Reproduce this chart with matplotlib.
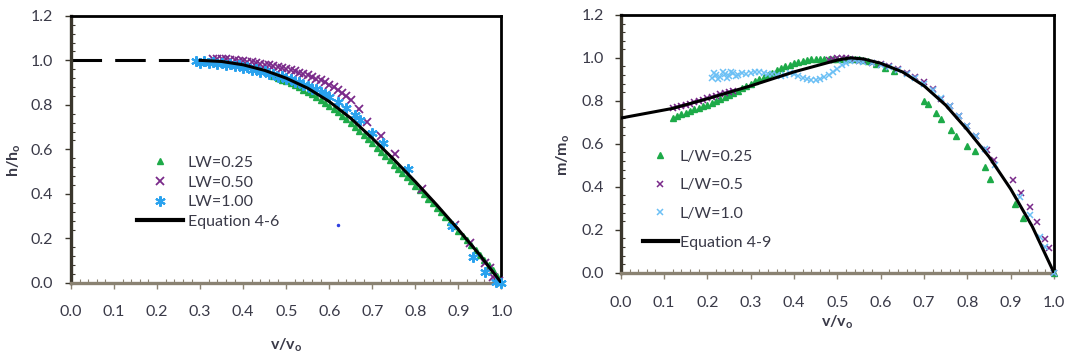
import matplotlib.pyplot as plt
from matplotlib.lines import Line2D
from matplotlib.ticker import MultipleLocator, FormatStrFormatter

plt.rcParams['font.family'] = ['Lato', 'DejaVu Sans']
plt.rcParams['mathtext.default'] = 'regular'

GREEN = '#1daa48'
PURPLE = '#7a2a8a'
BLUE = '#2aa2ee'
LIGHT_BLUE = '#6cc0f5'
TEXT = '#3a3a48'
LEFT_AXIS = '#3a362c'
BOTTOM_AXIS = '#8a8272'
FS = 11.5

# ---------------- h/ho vs v/vo ----------------
eq46_dash_x = [0.0, 0.30]
eq46_dash_y = [1.0, 1.0]
eq46_x = [0.30, 0.35, 0.40, 0.45, 0.50, 0.55, 0.60, 0.65, 0.70, 0.75, 0.80, 0.85, 0.90, 0.95, 1.00]
eq46_y = [1.00, 0.995, 0.98, 0.955, 0.92, 0.875, 0.815, 0.74, 0.65, 0.555, 0.455, 0.35, 0.24, 0.125, 0.0]

lw025_x = [0.47, 0.48, 0.49, 0.50, 0.51, 0.52, 0.53, 0.54, 0.55, 0.56, 0.57, 0.58, 0.59, 0.60,
           0.61, 0.62, 0.63, 0.64, 0.65, 0.66, 0.67, 0.68, 0.69, 0.70, 0.71, 0.72, 0.73, 0.74,
           0.75, 0.76, 0.77, 0.78, 0.79, 0.80, 0.81, 0.82, 0.83, 0.84, 0.85, 0.86, 0.87, 0.88,
           0.89, 0.90, 0.91, 0.92, 0.93, 0.94, 0.95, 0.96, 0.97, 0.98, 0.99, 1.00]
lw025_y = [0.930, 0.922, 0.914, 0.906, 0.897, 0.888, 0.879, 0.869, 0.858, 0.847, 0.835, 0.823, 0.810, 0.796,
           0.782, 0.767, 0.751, 0.735, 0.718, 0.701, 0.683, 0.665, 0.646, 0.627, 0.608, 0.589, 0.570, 0.551,
           0.532, 0.513, 0.494, 0.475, 0.456, 0.437, 0.418, 0.398, 0.378, 0.358, 0.338, 0.318, 0.297, 0.276,
           0.255, 0.234, 0.213, 0.192, 0.170, 0.148, 0.126, 0.103, 0.080, 0.056, 0.031, 0.006]

lw050_x = [0.33, 0.34, 0.35, 0.36, 0.37, 0.38, 0.39, 0.40, 0.41, 0.42, 0.43, 0.44, 0.45, 0.46, 0.47,
           0.48, 0.49, 0.50, 0.51, 0.52, 0.53, 0.54, 0.55, 0.56, 0.57, 0.58, 0.59, 0.60, 0.61, 0.62,
           0.63, 0.64, 0.65, 0.668, 0.688, 0.720, 0.752, 0.815, 0.893, 0.928, 0.963, 0.974, 0.981, 0.995]
lw050_y = [1.006, 1.006, 1.005, 1.004, 1.003, 1.001, 0.999, 0.997, 0.994, 0.991, 0.988, 0.985, 0.981, 0.977, 0.973,
           0.969, 0.965, 0.960, 0.955, 0.950, 0.945, 0.939, 0.933, 0.926, 0.918, 0.910, 0.901, 0.891, 0.880, 0.868,
           0.855, 0.840, 0.824, 0.780, 0.722, 0.660, 0.578, 0.420, 0.262, 0.180, 0.090, 0.067, 0.027, 0.010]

lw100_x = [0.29, 0.30, 0.31, 0.32, 0.33, 0.34, 0.35, 0.36, 0.37, 0.38, 0.39, 0.40, 0.41, 0.42, 0.43,
           0.44, 0.45, 0.46, 0.47, 0.48, 0.49, 0.50, 0.51, 0.52, 0.53, 0.54, 0.55, 0.56, 0.57, 0.58,
           0.59, 0.60, 0.62, 0.64, 0.66, 0.672, 0.70, 0.726, 0.784, 0.886, 0.935, 0.963, 0.988, 1.00]
lw100_y = [0.997, 0.990, 0.996, 0.988, 0.993, 0.984, 0.989, 0.979, 0.983, 0.973, 0.977, 0.966, 0.969, 0.958, 0.960,
           0.948, 0.950, 0.938, 0.939, 0.927, 0.928, 0.916, 0.916, 0.903, 0.902, 0.889, 0.887, 0.873, 0.870, 0.856,
           0.851, 0.836, 0.812, 0.785, 0.755, 0.730, 0.672, 0.630, 0.510, 0.256, 0.117, 0.050, 0.005, 0.000]

stray_x = [0.62]
stray_y = [0.26]

# ---------------- m/mo vs v/vo ----------------
eq49_x = [0.0, 0.12, 0.20, 0.30, 0.40, 0.50, 0.53, 0.56, 0.60, 0.65, 0.70, 0.75, 0.80, 0.85, 0.90, 0.95, 1.00]
eq49_y = [0.72, 0.765, 0.81, 0.87, 0.935, 0.99, 1.0, 0.995, 0.975, 0.935, 0.87, 0.78, 0.665, 0.54, 0.39, 0.215, 0.0]

lw25_x = [0.12, 0.13, 0.14, 0.15, 0.16, 0.17, 0.18, 0.19, 0.20, 0.21, 0.22, 0.23, 0.24, 0.25, 0.26,
          0.27, 0.28, 0.29, 0.30, 0.31, 0.32, 0.33, 0.34, 0.35, 0.36, 0.37, 0.38, 0.39, 0.40, 0.41,
          0.42, 0.43, 0.44, 0.45, 0.46, 0.47, 0.48, 0.49, 0.50, 0.51, 0.52, 0.53, 0.54, 0.55, 0.56,
          0.57, 0.59, 0.61, 0.63, 0.70, 0.71, 0.728, 0.74, 0.762, 0.775, 0.80, 0.818, 0.84, 0.852,
          0.91, 0.928, 1.00]
lw25_y = [0.720, 0.729, 0.737, 0.745, 0.752, 0.760, 0.767, 0.775, 0.783, 0.791, 0.799, 0.808, 0.817, 0.827, 0.837,
          0.847, 0.858, 0.869, 0.880, 0.891, 0.902, 0.912, 0.922, 0.932, 0.942, 0.951, 0.960, 0.968, 0.975, 0.981,
          0.986, 0.990, 0.994, 0.996, 0.997, 0.997, 0.996, 0.995, 0.994, 0.993, 0.993, 0.994, 0.995, 0.994, 0.990,
          0.984, 0.970, 0.955, 0.937, 0.800, 0.785, 0.742, 0.716, 0.664, 0.636, 0.590, 0.568, 0.494, 0.436,
          0.320, 0.254, 0.000]

lw05_x = [0.12, 0.13, 0.14, 0.15, 0.16, 0.17, 0.18, 0.19, 0.20, 0.21, 0.22, 0.23, 0.24, 0.25, 0.26,
          0.48, 0.49, 0.50, 0.51, 0.52, 0.53, 0.54, 0.55, 0.56, 0.58, 0.60, 0.62, 0.64, 0.66, 0.68,
          0.70, 0.72, 0.74, 0.76, 0.78, 0.80, 0.82, 0.845, 0.862, 0.906, 0.925, 0.945, 0.961, 0.979,
          0.989, 1.00]
lw05_y = [0.765, 0.770, 0.775, 0.780, 0.787, 0.793, 0.800, 0.806, 0.812, 0.818, 0.824, 0.830, 0.836, 0.842, 0.847,
          0.990, 0.995, 1.000, 1.000, 0.998, 0.995, 0.990, 0.987, 0.985, 0.978, 0.970, 0.960, 0.948, 0.932, 0.912,
          0.888, 0.855, 0.810, 0.775, 0.730, 0.685, 0.635, 0.570, 0.525, 0.430, 0.370, 0.307, 0.237, 0.155,
          0.113, 0.000]

lw10_x = [0.21, 0.215, 0.22, 0.225, 0.23, 0.235, 0.24, 0.245, 0.25, 0.255, 0.26, 0.265, 0.27, 0.28, 0.29,
          0.30, 0.31, 0.32, 0.33, 0.34, 0.35, 0.36, 0.37, 0.38, 0.39, 0.40, 0.41, 0.42, 0.43, 0.44,
          0.45, 0.46, 0.47, 0.48, 0.49, 0.50, 0.51, 0.52, 0.53, 0.54, 0.55, 0.56, 0.58, 0.60, 0.62,
          0.64, 0.66, 0.68, 0.70, 0.72, 0.74, 0.76, 0.78, 0.80, 0.82, 0.84, 0.864, 0.921, 0.945,
          0.968, 0.979, 1.00]
lw10_y = [0.905, 0.930, 0.920, 0.900, 0.910, 0.935, 0.925, 0.905, 0.915, 0.935, 0.930, 0.915, 0.920, 0.930, 0.925,
          0.930, 0.935, 0.935, 0.930, 0.925, 0.925, 0.920, 0.915, 0.920, 0.930, 0.925, 0.915, 0.905, 0.900, 0.895,
          0.895, 0.900, 0.910, 0.920, 0.935, 0.950, 0.965, 0.975, 0.985, 0.990, 0.985, 0.982, 0.976, 0.968, 0.957,
          0.943, 0.926, 0.905, 0.880, 0.850, 0.815, 0.775, 0.730, 0.685, 0.635, 0.578, 0.501, 0.354, 0.270,
          0.166, 0.120, 0.000]


def style_axes(ax, xpad, ypad):
    ax.set_xlim(0, 1.0)
    ax.set_ylim(0, 1.2)
    ax.xaxis.set_major_locator(MultipleLocator(0.1))
    ax.xaxis.set_minor_locator(MultipleLocator(0.02))
    ax.yaxis.set_major_locator(MultipleLocator(0.2))
    ax.yaxis.set_minor_locator(MultipleLocator(0.04))
    ax.xaxis.set_major_formatter(FormatStrFormatter('%.1f'))
    ax.yaxis.set_major_formatter(FormatStrFormatter('%.1f'))
    ax.spines['left'].set_color(LEFT_AXIS)
    ax.spines['left'].set_linewidth(2.4)
    ax.spines['bottom'].set_color(BOTTOM_AXIS)
    ax.spines['bottom'].set_linewidth(2.4)
    for side in ['top', 'right']:
        ax.spines[side].set_color('black')
        ax.spines[side].set_linewidth(2.0)
    ax.tick_params(axis='x', which='major', direction='out', length=4, width=1,
                   color=BOTTOM_AXIS, pad=xpad, labelsize=FS, labelcolor=TEXT)
    ax.tick_params(axis='x', which='minor', direction='in', length=3, width=0.8, color=BOTTOM_AXIS)
    ax.tick_params(axis='y', which='major', direction='out', length=4, width=1,
                   color=LEFT_AXIS, pad=ypad, labelsize=FS, labelcolor=TEXT)
    ax.tick_params(axis='y', which='minor', direction='in', length=3, width=0.8, color=LEFT_AXIS)


fig = plt.figure(figsize=(10.76, 3.6), dpi=100)

# left chart - height ratio
ax1 = fig.add_axes([0.066, 0.214, 0.400, 0.742])
style_axes(ax1, 12, 9)
ax1.plot(eq46_dash_x, eq46_dash_y, color='black', lw=2.2, dashes=(10, 4.3), zorder=2)
ax1.plot(lw025_x, lw025_y, ls='none', marker='^', ms=5, color=GREEN, clip_on=False, zorder=3)
ax1.plot(lw050_x, lw050_y, ls='none', marker='x', ms=6, mew=1.3, color=PURPLE, clip_on=False, zorder=3)
ax1.plot(lw100_x, lw100_y, ls='none', marker=(6, 2, 0), ms=7.5, mew=1.5, color=BLUE, clip_on=False, zorder=3)
ax1.plot(eq46_x, eq46_y, color='black', lw=2.2, zorder=4)
ax1.plot(stray_x, stray_y, ls='none', marker='o', ms=1.5, color='#3040e0')

ax1.set_xlabel('v/v$_o$', fontsize=FS, fontweight='bold', color=TEXT)
ax1.xaxis.set_label_coords(0.5, -0.2)
ax1.set_ylabel('h/h$_o$', fontsize=FS, fontweight='bold', color=TEXT)
ax1.yaxis.set_label_coords(-0.112, 0.46)

handles1 = [Line2D([], [], ls='none', marker='^', ms=5, color=GREEN),
            Line2D([], [], ls='none', marker='x', ms=6, mew=1.3, color=PURPLE),
            Line2D([], [], ls='none', marker=(6, 2, 0), ms=7.5, mew=1.5, color=BLUE),
            Line2D([], [], color='black', lw=3)]
ax1.legend(handles1, ['LW=0.25', 'LW=0.50', 'LW=1.00', 'Equation 4-6'],
           loc='upper left', bbox_to_anchor=(0.127, 0.567), bbox_transform=fig.transFigure,
           frameon=False, fontsize=FS, labelspacing=0.34, handlelength=2.9,
           handletextpad=0.3, borderpad=0, borderaxespad=0, labelcolor=TEXT)

# right chart - mass ratio
ax2 = fig.add_axes([0.577, 0.2425, 0.4025, 0.716])
style_axes(ax2, 13, 8)
ax2.plot(lw25_x, lw25_y, ls='none', marker='^', ms=4, color=GREEN, clip_on=False, zorder=3)
ax2.plot(lw05_x, lw05_y, ls='none', marker='x', ms=3.8, mew=1.1, color=PURPLE, clip_on=False, zorder=3)
ax2.plot(lw10_x, lw10_y, ls='none', marker='x', ms=3.8, mew=1.1, color=LIGHT_BLUE, clip_on=False, zorder=3)
ax2.plot(eq49_x, eq49_y, color='black', lw=2.2, zorder=4)

ax2.set_xlabel('v/v$_o$', fontsize=FS, fontweight='bold', color=TEXT)
ax2.xaxis.set_label_coords(0.5, -0.158)
ax2.set_ylabel('m/m$_o$', fontsize=FS, fontweight='bold', color=TEXT)
ax2.yaxis.set_label_coords(-0.113, 0.457)

handles2 = [Line2D([], [], ls='none', marker='^', ms=4, color=GREEN),
            Line2D([], [], ls='none', marker='x', ms=3.8, mew=1.1, color=PURPLE),
            Line2D([], [], ls='none', marker='x', ms=3.8, mew=1.1, color=LIGHT_BLUE),
            Line2D([], [], color='black', lw=3)]
ax2.legend(handles2, ['L/W=0.25', 'L/W=0.5', 'L/W=1.0', 'Equation 4-9'],
           loc='upper left', bbox_to_anchor=(0.5975, 0.584), bbox_transform=fig.transFigure,
           frameon=False, fontsize=FS, labelspacing=0.9, handlelength=2.2,
           handletextpad=0.12, borderpad=0, borderaxespad=0, labelcolor=TEXT)

fig.savefig('out.png', dpi=100)
